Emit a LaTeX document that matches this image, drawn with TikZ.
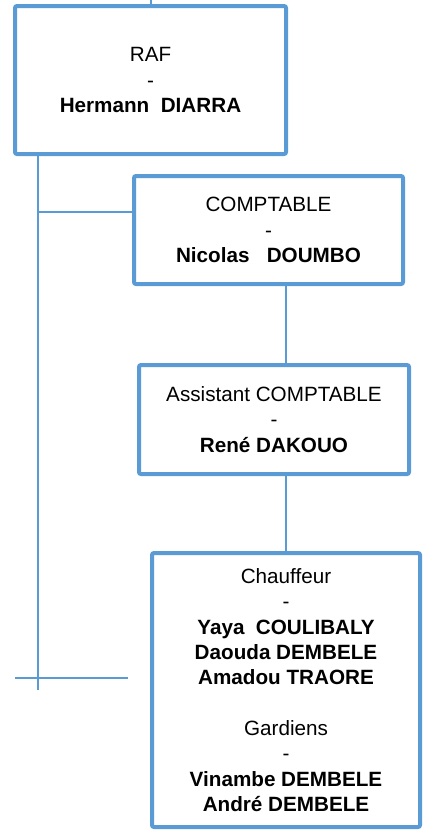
\documentclass[tikz,border=0pt]{standalone}
\usepackage{fontspec}
\setmainfont{Liberation Sans}
\usepackage{tikz}
\usetikzlibrary{positioning, backgrounds}

\definecolor{orgblue}{HTML}{5B9BD5}

\tikzset{
    post/.style={draw=orgblue, line width=3pt, rounded corners=1.5pt, fill=white,
        inner sep=0pt, align=center, font=\fontsize{15.5}{19}\selectfont},
    link/.style={draw=orgblue, line width=0.9pt}
}

\begin{document}
\begin{tikzpicture}[x=0.75pt, y=-0.75pt]
        \useasboundingbox (0,0) rectangle (436,836);

        % Posts
        \node[post, minimum width=271*0.75pt, minimum height=148*0.75pt] (raf) at (150.5,80)
            {RAF\\-\\\textbf{Hermann\ \ DIARRA}};
        \node[post, minimum width=269*0.75pt, minimum height=108*0.75pt] (compt) at (268.5,230)
            {COMPTABLE\\-\\\textbf{Nicolas\ \ \ DOUMBO}};
        \node[post, minimum width=270*0.75pt, minimum height=109*0.75pt] (assist) at (274,419.5)
            {Assistant COMPTABLE\\-\\\textbf{René DAKOUO}};
        \node[post, minimum width=268*0.75pt, minimum height=274*0.75pt] (chauf) at (286,690)
            {Chauffeur\\-\\\textbf{Yaya\ \ COULIBALY}\\\textbf{Daouda DEMBELE}\\\textbf{Amadou TRAORE}\\[19pt]
             Gardiens\\-\\\textbf{Vinambe DEMBELE}\\\textbf{André DEMBELE}};

        % Connector end points
        \coordinate (up) at (151,0);
        \coordinate (trunk) at (38,690);
        \coordinate (comptin) at (138,212);
        \coordinate (spine) at (286,0);
        \coordinate (legl) at (15,678);
        \coordinate (legr) at (128,678);

        % Connectors
        \begin{scope}[on background layer]
            \draw[link] (raf.north -| up) -- (up);
            \draw[link] (raf.south -| trunk) -- (trunk);
            \draw[link] (comptin -| trunk) -- (comptin);
            \draw[link] (compt.south -| spine) -- (assist.north -| spine);
            \draw[link] (assist.south -| spine) -- (chauf.north);
            \draw[link] (legl) -- (legr);
        \end{scope}
    \end{tikzpicture}
\end{document}
